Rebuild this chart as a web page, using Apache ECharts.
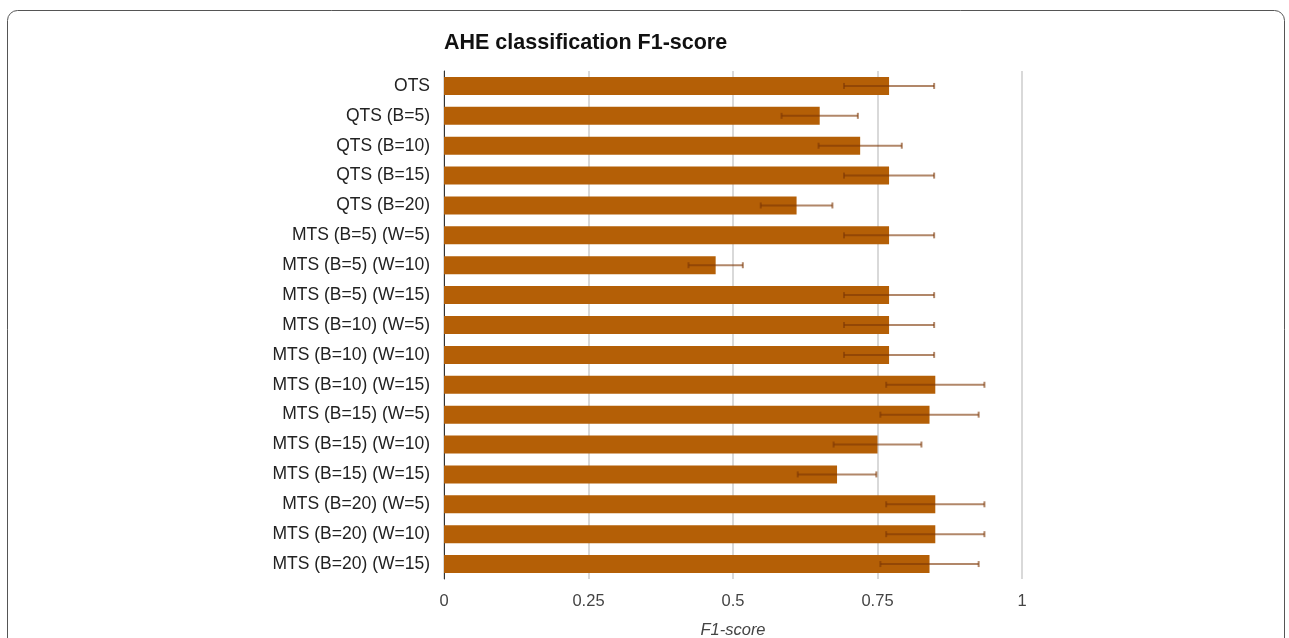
<!DOCTYPE html>
<html>
<head>
<meta charset="utf-8">
<script src="https://cdn.jsdelivr.net/npm/echarts@6/dist/echarts.min.js"></script>
<style>
html,body{margin:0;padding:0;background:#fff;}
#chart{width:1289px;height:638px;}
</style>
</head>
<body>
<div id="chart"></div>
<script>
const categories = ["OTS","QTS (B=5)","QTS (B=10)","QTS (B=15)","QTS (B=20)","MTS (B=5) (W=5)","MTS (B=5) (W=10)","MTS (B=5) (W=15)","MTS (B=10) (W=5)","MTS (B=10) (W=10)","MTS (B=10) (W=15)","MTS (B=15) (W=5)","MTS (B=15) (W=10)","MTS (B=15) (W=15)","MTS (B=20) (W=5)","MTS (B=20) (W=10)","MTS (B=20) (W=15)"];
const f1Scores = [0.77,0.65,0.72,0.77,0.61,0.77,0.47,0.77,0.77,0.77,0.85,0.84,0.75,0.68,0.85,0.85,0.84];
const errors = [0.078,0.066,0.072,0.078,0.062,0.078,0.047,0.078,0.078,0.078,0.085,0.085,0.076,0.068,0.085,0.085,0.085];
const xTicks = [0,0.25,0.5,0.75,1];

const errData = categories.map((c,i)=>[i, f1Scores[i]-errors[i], f1Scores[i]+errors[i]]);
const chart = echarts.init(document.getElementById('chart'));
const font = "Liberation Sans, Arial, sans-serif";
chart.setOption({
  animation:false,
  title:{text:"AHE classification F1-score", left:439, top:27,
    textStyle:{fontFamily:font, fontSize:21.5, fontWeight:'bold', color:'#111'}},
  graphic:[{type:'rect', shape:{x:7.5,y:10.5,width:1277,height:700,r:10},
    style:{fill:'none', stroke:'#555', lineWidth:1}}],
  grid:{left:444, right:267, top:71, bottom:59, containLabel:false, outerBoundsMode:'none'},
  xAxis:{type:'value', min:0, max:1, interval:0.25,
    name:'F1-score', nameLocation:'middle', nameGap:43,
    nameTextStyle:{fontFamily:font, fontSize:16.5, fontStyle:'italic', color:'#444'},
    axisLine:{show:false}, axisTick:{show:false},
    axisLabel:{fontFamily:font, fontSize:16.5, color:'#444', margin:14,
      formatter:v=>String(xTicks.find(t=>Math.abs(t-v)<1e-9) ?? v)},
    splitLine:{show:true, lineStyle:{color:'#cccccc', width:1.5}}},
  yAxis:{type:'category', data:categories, inverse:true,
    axisLine:{show:true, lineStyle:{color:'#333', width:1}},
    axisTick:{show:false},
    axisLabel:{fontFamily:font, fontSize:17.5, color:'#222', margin:14}},
  series:[
    {type:'bar', data:f1Scores, barWidth:18,
      itemStyle:{color:'#b45f06'}},
    {type:'custom', data:errData, z:5,
      renderItem:(params, api)=>{
        const i=api.value(0);
        const lo=api.coord([api.value(1), i]);
        const hi=api.coord([api.value(2), i]);
        const y=lo[1];
        const st={stroke:'rgba(125,55,5,0.6)', lineWidth:2};
        return {type:'group', children:[
          {type:'line', shape:{x1:lo[0],y1:y,x2:hi[0],y2:y}, style:st},
          {type:'line', shape:{x1:lo[0],y1:y-3,x2:lo[0],y2:y+3}, style:st},
          {type:'line', shape:{x1:hi[0],y1:y-3,x2:hi[0],y2:y+3}, style:st}
        ]};
      },
      encode:{x:[1,2], y:0}}
  ]
});
</script>
</body>
</html>
